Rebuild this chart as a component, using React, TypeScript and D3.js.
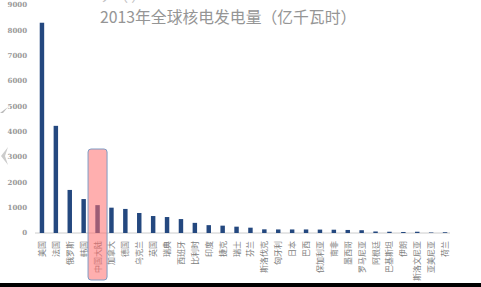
import React from "react";
import * as d3 from "d3";

const countries = ["美国","法国","俄罗斯","韩国","中国大陆","加拿大","德国","乌克兰","英国","瑞典","西班牙","比利时","印度","捷克","瑞士","芬兰","斯洛伐克","匈牙利","日本","巴西","保加利亚","南非","墨西哥","罗马尼亚","阿根廷","巴基斯坦","伊朗","斯洛文尼亚","亚美尼亚","荷兰"];
const generation = [8300,4230,1700,1340,1100,1000,950,790,670,630,550,400,310,290,250,210,145,140,140,140,135,130,120,110,60,50,40,50,20,30];
const yTicks = [0,1000,2000,3000,4000,5000,6000,7000,8000,9000];
const titleText = "2013年全球核电发电量（亿千瓦时）";
const highlighted = "中国大陆";

export default function App() {
  const W = 481, H = 287;
  const x = d3.scaleBand<string>().domain(countries).range([35, 452]).paddingInner(0.68).paddingOuter(0.34);
  const y = d3.scaleLinear().domain([0, 9000]).range([233, 5]);
  const hx = (x(highlighted) as number) + x.bandwidth() / 2;
  return (
    <svg width={W} height={H} style={{ position: "absolute", left: 0, top: 0, background: "#fff" }}
      fontFamily="'Noto Sans CJK SC', 'DejaVu Sans', sans-serif">
      <rect x={0} y={0} width={W} height={H} fill="#fff" />
      {/* faint cut-off text at top */}
      <text x={100} y={1} fontSize={14} fill="#999" opacity={0.6}>ア（ ）</text>
      <text x={100} y={23} fontSize={15.8} fill="#959595">{titleText}</text>
      {yTicks.map(t => (
        <text key={t} x={27} y={y(t)} dy="0.35em" textAnchor="end" fontSize={7} fontWeight="bold"
          fontFamily="'DejaVu Serif', serif" fill="#999">{t}</text>
      ))}
      <line x1={35} x2={450} y1={y(0)} y2={y(0)} stroke="#ccc" strokeWidth={1} />
      {countries.map((c, i) => (
        <rect key={c} x={x(c)} y={y(generation[i])} width={x.bandwidth()} height={y(0) - y(generation[i])} fill="#24487f" />
      ))}
      {countries.map(c => {
        const cx = (x(c) as number) + x.bandwidth() / 2;
        return (
          <text key={c} transform={`translate(${cx + 3},241) rotate(-90)`} textAnchor="end" fontSize={8} fill="#808080">{c}</text>
        );
      })}
      <rect x={hx - 9.5} y={149} width={19} height={131} rx={3} fill="rgba(255,110,110,0.55)" stroke="#7f9cc4" strokeWidth={1} />
      {/* left artifacts */}
      <path d="M0,113 L8,107 L3,113 Z" fill="#bbb" />
      <path d="M8,147 L1,156 L8,165 L5,156 Z" fill="#ccc" />
      <rect x={0} y={283} width={W} height={4} fill="#000" />
    </svg>
  );
}
